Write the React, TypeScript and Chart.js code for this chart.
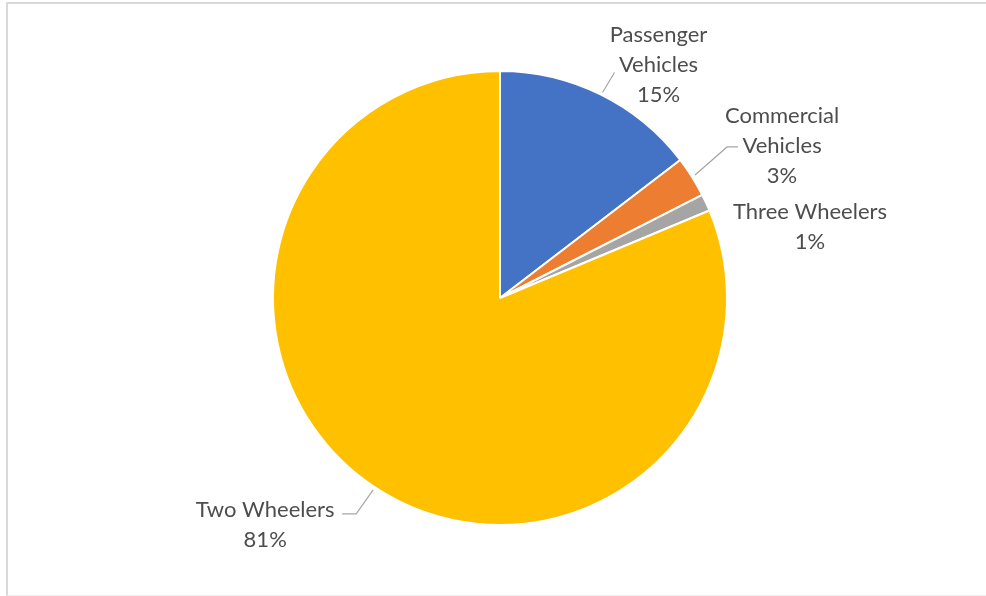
import React, { useEffect, useRef } from "react";
import { Chart, registerables } from "chart.js";

Chart.register(...registerables);

const categories = ["Passenger Vehicles", "Commercial Vehicles", "Three Wheelers", "Two Wheelers"];
const shares = [14.6, 2.9, 1.2, 81.3];
const sliceColors = ["#4472C4", "#ED7D31", "#A5A5A5", "#FFC000"];

// Label block center offset from each slice's outer-edge midpoint, and leader line polyline offsets (same origin)
const labelLayout = [
  { dx: 58, dy: -30, leader: [[2, -2], [14, -22]] },
  { dx: 90, dy: -31, leader: [[3, -2], [35, -30], [46, -30]] },
  { dx: 104, dy: 24, leader: [] as number[][] },
  { dx: -109, dy: 38, leader: [[-1, 3], [-18, 27], [-32, 27]] },
];

const FONT = "22px Lato";
const LINE_H = 30;
const WRAP = 175;

const labelPlugin = {
  id: "outsideLabels",
  afterDraw(chart: any) {
    const ctx = chart.ctx;
    const meta = chart.getDatasetMeta(0);
    const data = chart.data.datasets[0].data as number[];
    const total = data.reduce((a, b) => a + b, 0);
    ctx.save();
    ctx.font = FONT;
    meta.data.forEach((arc: any, i: number) => {
      const p = arc.getProps(["x", "y", "startAngle", "endAngle", "outerRadius"], true);
      const mid = (p.startAngle + p.endAngle) / 2;
      const ex = p.x + Math.cos(mid) * p.outerRadius;
      const ey = p.y + Math.sin(mid) * p.outerRadius;
      const lay = labelLayout[i];
      if (lay.leader.length > 1) {
        ctx.beginPath();
        ctx.strokeStyle = "#a6a6a6";
        ctx.lineWidth = 1.2;
        lay.leader.forEach((pt, k) => {
          if (k === 0) ctx.moveTo(ex + pt[0], ey + pt[1]);
          else ctx.lineTo(ex + pt[0], ey + pt[1]);
        });
        ctx.stroke();
      }
      // wrap the category name
      const words = String(chart.data.labels[i]).split(" ");
      const lines: string[] = [];
      let cur = "";
      words.forEach((w) => {
        const test = cur ? cur + " " + w : w;
        if (cur && ctx.measureText(test).width > WRAP) {
          lines.push(cur);
          cur = w;
        } else cur = test;
      });
      if (cur) lines.push(cur);
      lines.push(Math.round((data[i] / total) * 100) + "%");
      const cx = ex + lay.dx;
      const cy = ey + lay.dy;
      ctx.fillStyle = "#4d4d4d";
      ctx.textAlign = "center";
      ctx.textBaseline = "middle";
      const top = cy - ((lines.length - 1) * LINE_H) / 2;
      lines.forEach((ln, k) => ctx.fillText(ln, cx, top + k * LINE_H));
    });
    ctx.restore();
  },
};

export default function App() {
  const ref = useRef<HTMLCanvasElement | null>(null);
  useEffect(() => {
    if (!ref.current) return;
    const chart = new Chart(ref.current, {
      type: "pie",
      data: {
        labels: categories,
        datasets: [
          {
            data: shares,
            backgroundColor: sliceColors,
            borderColor: "#ffffff",
            borderWidth: 2,
          },
        ],
      },
      options: {
        animation: false,
        responsive: false,
        radius: 227,
        layout: { padding: { left: 14, right: 0, top: 0, bottom: 0 } },
        plugins: {
          legend: { display: false },
          tooltip: { enabled: false },
        },
      } as any,
      plugins: [labelPlugin],
    });
    return () => chart.destroy();
  }, []);
  return (
    <div style={{ position: "fixed", left: 0, top: 0, width: 986, height: 596, background: "#fff", overflow: "hidden" }}>
      <div
        style={{
          position: "absolute",
          left: 6,
          top: 2,
          width: 990,
          height: 594,
          borderTop: "2px solid #d9d9d9",
          borderLeft: "2px solid #d9d9d9",
          borderBottom: "1px solid #efefef",
          boxSizing: "border-box",
        }}
      />
      <canvas ref={ref} width={986} height={596} style={{ position: "absolute", left: 0, top: 0 }} />
    </div>
  );
}
